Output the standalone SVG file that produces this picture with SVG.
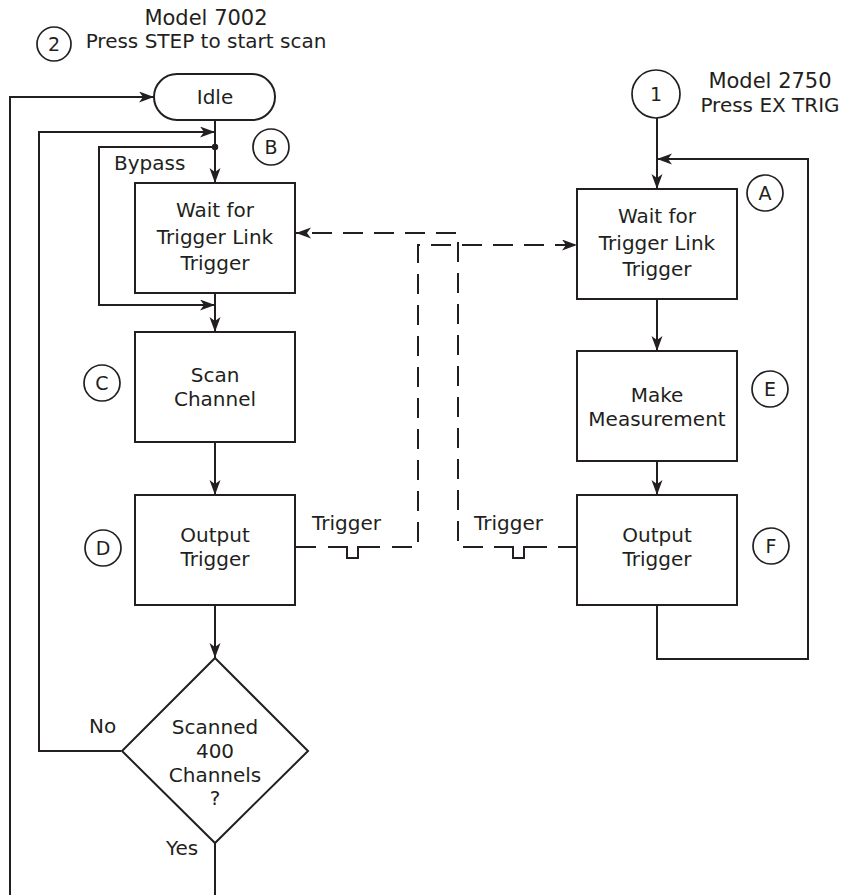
<svg xmlns="http://www.w3.org/2000/svg" width="842" height="895" viewBox="0 0 842 895">
<style>
.t{font-family:"DejaVu Sans","Liberation Sans",sans-serif;font-size:20px;fill:#231f20}
.h{font-size:21px}
.m{text-anchor:middle}
.box{fill:#fff;stroke:#231f20;stroke-width:2}
.ln{fill:none;stroke:#231f20;stroke-width:2}
.dash{fill:none;stroke:#231f20;stroke-width:2;stroke-dasharray:20 11}
.circ{fill:#fff;stroke:#231f20;stroke-width:1.7}
.cl{font-family:"DejaVu Sans","Liberation Sans",sans-serif;font-size:19px;fill:#231f20;text-anchor:middle}
</style>
<defs>
<marker id="ah" markerUnits="userSpaceOnUse" markerWidth="16" markerHeight="13" refX="15" refY="5.5" orient="auto">
<path d="M0,0 L15,5.5 L0,11 L4,5.5 Z" fill="#231f20"/>
</marker>
</defs>

<rect width="842" height="895" fill="#fff"/>

<g id="connectors">
<path class="ln" d="M215,120 V183" marker-end="url(#ah)"/>
<path class="ln" d="M215,293 V332" marker-end="url(#ah)"/>
<path class="ln" d="M215,442 V495" marker-end="url(#ah)"/>
<path class="ln" d="M215,605 V658" marker-end="url(#ah)"/>
<path class="ln" d="M215,843 V895"/>
<path class="ln" d="M10,895 V97 H154" marker-end="url(#ah)"/>
<path class="ln" d="M121,751 H39 V132 H215" marker-end="url(#ah)"/>
<path class="ln" d="M215,147 H99 V305 H215" marker-end="url(#ah)"/>
<circle cx="215" cy="147" r="3.2" fill="#231f20"/>
<path class="ln" d="M657,118 V189" marker-end="url(#ah)"/>
<path class="ln" d="M657,299 V351" marker-end="url(#ah)"/>
<path class="ln" d="M657,461 V495" marker-end="url(#ah)"/>
<path class="ln" d="M657,605 V659 H808 V159 H657" marker-end="url(#ah)"/>
<path class="dash" d="M296,547 H317"/>
<path class="ln" d="M328,547 H347 V558 H358 V547 H380"/>
<path class="dash" d="M392,547 H418 V245 H577" marker-end="url(#ah)"/>
<path class="dash" d="M577,547 H558"/>
<path class="ln" d="M547,547 H524 V558 H513 V547 H494"/>
<path class="dash" d="M483,547 H458 V233 H296" marker-end="url(#ah)"/>
</g>

<g id="header2">
<circle class="circ" cx="54" cy="44" r="17"/>
<text class="cl" x="54" y="51">2</text>
<text class="t h m" x="206" y="25">Model 7002</text>
<text class="t m" x="206" y="48">Press STEP to start scan</text>
</g>

<g id="header1">
<circle class="circ" cx="656" cy="94" r="24"/>
<text class="cl" x="656" y="101">1</text>
<text class="t h m" x="770" y="88">Model 2750</text>
<text class="t m" x="770" y="112">Press EX TRIG</text>
</g>

<g id="idle">
<rect class="box" x="154" y="74" width="121" height="46" rx="23" ry="23"/>
<text class="t m" x="215" y="104">Idle</text>
</g>

<g id="wait7002">
<rect class="box" x="135" y="183" width="160" height="110"/>
<text class="t m" x="215" y="217">Wait for</text>
<text class="t m" x="215" y="244">Trigger Link</text>
<text class="t m" x="215" y="270">Trigger</text>
</g>

<g id="scan">
<rect class="box" x="135" y="332" width="160" height="110"/>
<text class="t m" x="215" y="382">Scan</text>
<text class="t m" x="215" y="406">Channel</text>
</g>

<g id="output7002">
<rect class="box" x="135" y="495" width="160" height="110"/>
<text class="t m" x="215" y="542">Output</text>
<text class="t m" x="215" y="566">Trigger</text>
</g>

<g id="decision">
<path class="box" d="M215,658 L308,751 L215,843 L122,751 Z"/>
<text class="t m" x="215" y="734">Scanned</text>
<text class="t m" x="215" y="758">400</text>
<text class="t m" x="215" y="782">Channels</text>
<text class="t m" x="215" y="805">?</text>
</g>

<g id="wait2750">
<rect class="box" x="577" y="189" width="160" height="110"/>
<text class="t m" x="657" y="223">Wait for</text>
<text class="t m" x="657" y="250">Trigger Link</text>
<text class="t m" x="657" y="276">Trigger</text>
</g>

<g id="measure">
<rect class="box" x="577" y="351" width="160" height="110"/>
<text class="t m" x="657" y="402">Make</text>
<text class="t m" x="657" y="426">Measurement</text>
</g>

<g id="output2750">
<rect class="box" x="577" y="495" width="160" height="110"/>
<text class="t m" x="657" y="542">Output</text>
<text class="t m" x="657" y="566">Trigger</text>
</g>

<g id="labels">
<text class="t" x="114" y="170">Bypass</text>
<text class="t" x="89" y="733">No</text>
<text class="t" x="166" y="855">Yes</text>
<text class="t" x="312" y="530">Trigger</text>
<text class="t" x="474" y="530">Trigger</text>
</g>

<g id="markerB"><circle class="circ" cx="271" cy="147" r="18"/><text class="cl" x="271" y="154">B</text></g>
<g id="markerA"><circle class="circ" cx="765" cy="193" r="18"/><text class="cl" x="765" y="200">A</text></g>
<g id="markerC"><circle class="circ" cx="102" cy="383" r="18"/><text class="cl" x="102" y="390">C</text></g>
<g id="markerD"><circle class="circ" cx="103" cy="548" r="18"/><text class="cl" x="103" y="555">D</text></g>
<g id="markerE"><circle class="circ" cx="770" cy="389" r="18"/><text class="cl" x="770" y="396">E</text></g>
<g id="markerF"><circle class="circ" cx="771" cy="546" r="18"/><text class="cl" x="771" y="553">F</text></g>
</svg>
